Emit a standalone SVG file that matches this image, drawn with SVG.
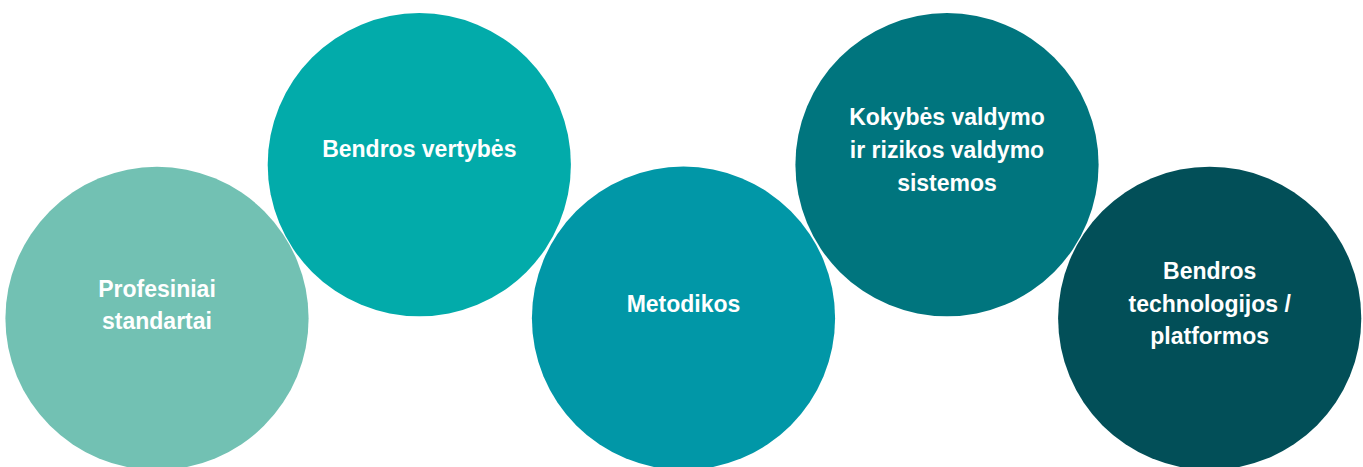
<svg xmlns="http://www.w3.org/2000/svg" width="1363" height="467" viewBox="0 0 1363 467">
<style>
.lbl{font-family:"Liberation Sans",Arial,sans-serif;font-weight:bold;font-size:23px;fill:#ffffff;text-anchor:middle}
</style>
<rect width="1363" height="467" fill="#ffffff"/>
<g id="connectors"></g>
<g id="n1">
<circle cx="157" cy="318.4" r="151.6" fill="#72C1B3"/>
<text class="lbl" x="157" y="297">Profesiniai</text>
<text class="lbl" x="157" y="329">standartai</text>
</g>
<g id="n2">
<circle cx="419.3" cy="164.7" r="151.6" fill="#02ABAA"/>
<text class="lbl" x="419.3" y="157">Bendros vertybės</text>
</g>
<g id="n3">
<circle cx="683.5" cy="318.2" r="151.6" fill="#0197A7"/>
<text class="lbl" x="683.5" y="312">Metodikos</text>
</g>
<g id="n4">
<circle cx="947" cy="164.7" r="151.6" fill="#00757E"/>
<text class="lbl" x="947" y="125">Kokybės valdymo</text>
<text class="lbl" x="947" y="158">ir rizikos valdymo</text>
<text class="lbl" x="947" y="191">sistemos</text>
</g>
<g id="n5">
<circle cx="1209.7" cy="318.3" r="151.6" fill="#024F58"/>
<text class="lbl" x="1209.7" y="279">Bendros</text>
<text class="lbl" x="1209.7" y="311.5">technologijos /</text>
<text class="lbl" x="1209.7" y="343.5">platformos</text>
</g>
</svg>
